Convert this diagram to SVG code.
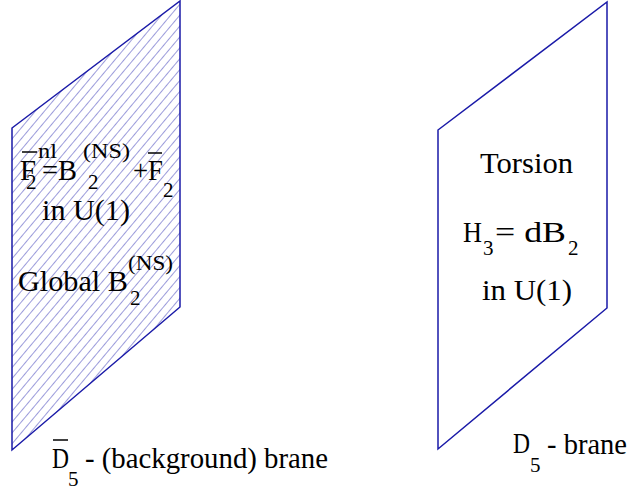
<svg xmlns="http://www.w3.org/2000/svg" width="628" height="493" viewBox="0 0 628 493">
<style>
text{font-family:"Liberation Serif","Times New Roman",serif;font-size:29px;fill:#000}
.s{font-size:21px}
.b{fill:none;stroke:#1a1aa8;stroke-width:1.5}
.ob{stroke:#000;stroke-width:1.5}
</style>
<defs>
<pattern id="hatch" patternUnits="userSpaceOnUse" width="7" height="7" patternTransform="rotate(40)">
<line x1="0" y1="0" x2="0" y2="7" stroke="#3a3ab8" stroke-width="1"/>
</pattern>
</defs>
<rect width="628" height="493" fill="#fff"/>
<g id="left-brane">
<polygon points="12,128 180,1 180,307 12,450" fill="url(#hatch)"/>
<polygon class="b" points="12,128 180,1 180,307 12,450"/>
<text x="20" y="180" textLength="16" lengthAdjust="spacingAndGlyphs">F</text>
<line class="ob" x1="22" y1="152" x2="37" y2="152"/>
<text class="s" x="38" y="158" textLength="19" lengthAdjust="spacingAndGlyphs">nl</text>
<text class="s" x="26" y="189">2</text>
<text x="42" y="180" textLength="35" lengthAdjust="spacingAndGlyphs">=B</text>
<text class="s" x="83" y="158" textLength="47" lengthAdjust="spacingAndGlyphs">(NS)</text>
<text class="s" x="88" y="189">2</text>
<text x="133" y="180" textLength="30" lengthAdjust="spacingAndGlyphs">+F</text>
<line class="ob" x1="148" y1="153" x2="162" y2="153"/>
<text class="s" x="163" y="197">2</text>
<text x="42" y="220" textLength="88" lengthAdjust="spacingAndGlyphs">in U(1)</text>
<text x="18" y="291" textLength="110" lengthAdjust="spacingAndGlyphs">Global B</text>
<text class="s" x="128" y="270" textLength="45" lengthAdjust="spacingAndGlyphs">(NS)</text>
<text class="s" x="130" y="305">2</text>
</g>
<g id="right-brane">
<polygon class="b" points="438,130 607,2 607,308 438,449"/>
<text x="480" y="173" textLength="93" lengthAdjust="spacingAndGlyphs">Torsion</text>
<text x="463" y="242" textLength="19" lengthAdjust="spacingAndGlyphs">H</text>
<text class="s" x="483" y="255">3</text>
<text x="495" y="242" textLength="71" lengthAdjust="spacingAndGlyphs">= dB</text>
<text class="s" x="568" y="255">2</text>
<text x="482" y="300" textLength="90" lengthAdjust="spacingAndGlyphs">in U(1)</text>
</g>
<g id="left-label">
<text x="52" y="468" textLength="17" lengthAdjust="spacingAndGlyphs">D</text>
<line class="ob" x1="53" y1="440" x2="68" y2="440"/>
<text class="s" x="68" y="486">5</text>
<text x="85" y="468" textLength="243" lengthAdjust="spacingAndGlyphs">- (background)  brane</text>
</g>
<g id="right-label">
<text x="513" y="453" textLength="17" lengthAdjust="spacingAndGlyphs">D</text>
<text class="s" x="530" y="472">5</text>
<text x="547" y="454" textLength="80" lengthAdjust="spacingAndGlyphs">- brane</text>
</g>
<g id="connectors"/>
</svg>
